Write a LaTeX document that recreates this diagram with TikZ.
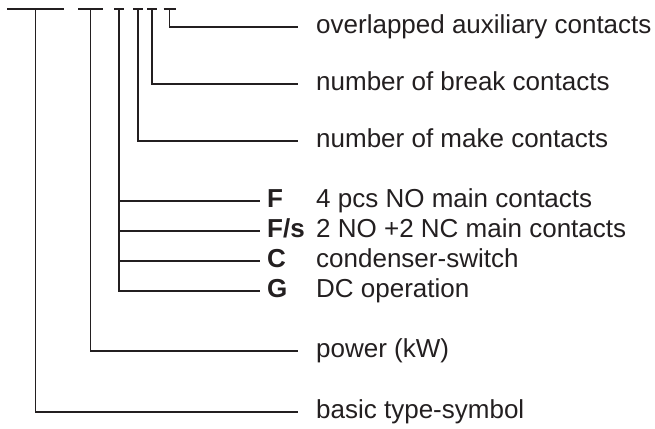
\documentclass[tikz,border=0pt]{standalone}
\usepackage{fontspec}
\setmainfont{Liberation Sans}
\usepackage{xcolor}
\definecolor{inkline}{RGB}{35,31,32}
% one blank place of the type code, with a coordinate under its middle
\newcommand{\codeSlot}[3]{%
    \draw[slot] ({#2-#3},9) -- ({#2+#3},9);
    \coordinate (#1) at (#2,9);
}

\begin{document}
\fontsize{26}{30}\selectfont
\begin{tikzpicture}[x=1pt, y=-1pt,
    slot/.style={draw=inkline, line width=1.4pt},
    lead/.style={draw=inkline, line width=1.2pt},
    desc/.style={anchor=mid west, inner xsep=18pt, inner ysep=0pt,
        text=inkline},
    code/.style={anchor=mid west, inner xsep=7pt, inner ysep=0pt,
        text=inkline, font=\bfseries}]
    \useasboundingbox (0,0) rectangle (655,428);

    \codeSlot{s1}{35.5}{28.5}
    \codeSlot{s2}{90.5}{12.5}
    \codeSlot{s3}{119}{5}
    \codeSlot{s4}{138}{5}
    \codeSlot{s5}{152}{5}
    \codeSlot{s6}{169.5}{6}

    \node[desc] (aux) at (298,27) {overlapped auxiliary contacts};
    \node[desc] (brk) at (298,84) {number of break contacts};
    \node[desc] (mk) at (298,141) {number of make contacts};
    \foreach \y/\c/\n/\t in {201/F/f/{4 pcs NO main contacts},
                             231/{F/s}/fs/{2 NO +2 NC main contacts},
                             261/C/c/{condenser-switch},
                             291/G/g/{DC operation}} {
        \node[code] (code\n) at (260,\y) {\c};
        \node[desc] (txt\n) at (298,\y) {\t};
    }
    \node[desc] (pow) at (298,351) {power (kW)};
    \node[desc] (basic) at (298,412) {basic type-symbol};

    \draw[lead] (s6) |- (aux.mid west);
    \draw[lead] (s5) |- (brk.mid west);
    \draw[lead] (s4) |- (mk.mid west);
    \foreach \n in {f,fs,c,g} {
        \draw[lead] (s3) |- (code\n.mid west);
    }
    \draw[lead] (s2) |- (pow.mid west);
    \draw[lead] (s1) |- (basic.mid west);
\end{tikzpicture}
\end{document}
